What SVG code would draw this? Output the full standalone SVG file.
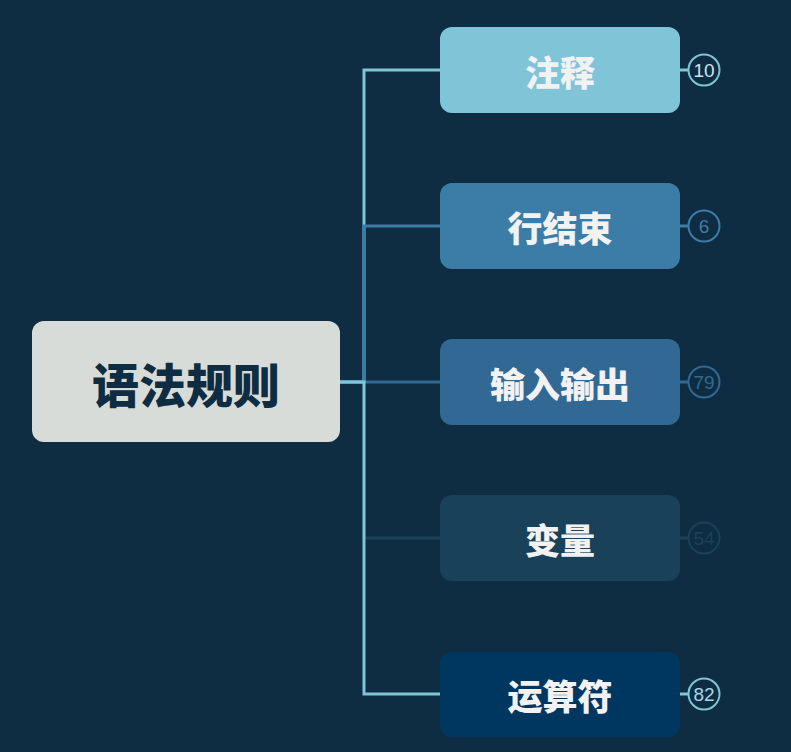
<svg xmlns="http://www.w3.org/2000/svg" width="791" height="752" viewBox="0 0 791 752">
<style>
.bg{fill:#0f2d42}
.lbl{font-family:"Noto Sans CJK SC","Noto Sans",sans-serif;font-weight:900;text-anchor:middle;dominant-baseline:central}
.child{font-size:35px;fill:#f2f2f2}
.root{font-size:47px;fill:#0f2d42}
.conn{fill:none;stroke-width:3}
.badge{fill:#0f2d42;stroke-width:2}
.num{font-family:"Liberation Sans",Arial,sans-serif;font-size:19px;text-anchor:middle;dominant-baseline:central}
</style>
<rect class="bg" x="0" y="0" width="791" height="752"/>
<g id="connectors">
<path class="conn" stroke="#1a415a" d="M340 382 H364 V538 H440"/>
<path class="conn" stroke="#316894" d="M340 382 H440"/>
<path class="conn" stroke="#80c4d8" d="M340 382 H364 V70 H440"/>
<path class="conn" stroke="#3c7da8" d="M340 382 H364 V226 H440"/>
<path class="conn" stroke="#80c4d8" d="M340 382 H364 V694 H440"/>
</g>
<g id="root">
<rect x="32" y="321" width="308" height="121" rx="12" fill="#d8dcd8"/>
<text class="lbl root" x="186" y="382">语法规则</text>
</g>
<g id="n1">
<rect x="440" y="27" width="240" height="86" rx="12" fill="#80c4d8"/>
<text class="lbl child" x="560" y="70">注释</text>
<line x1="680" y1="70" x2="688" y2="70" stroke="#80c4d8" stroke-width="3"/>
<circle class="badge" cx="704" cy="70" r="15.5" stroke="#80c4d8"/>
<text class="num" x="704" y="70" fill="#c8e4ee">10</text>
</g>
<g id="n2">
<rect x="440" y="183" width="240" height="86" rx="12" fill="#3c7da8"/>
<text class="lbl child" x="560" y="226">行结束</text>
<line x1="680" y1="226" x2="688" y2="226" stroke="#3c7da8" stroke-width="3"/>
<circle class="badge" cx="704" cy="226" r="15.5" stroke="#3c7da8"/>
<text class="num" x="704" y="226" fill="#3c7da8">6</text>
</g>
<g id="n3">
<rect x="440" y="339" width="240" height="86" rx="12" fill="#316894"/>
<text class="lbl child" x="560" y="382">输入输出</text>
<line x1="680" y1="382" x2="688" y2="382" stroke="#316894" stroke-width="3"/>
<circle class="badge" cx="704" cy="382" r="15.5" stroke="#316894"/>
<text class="num" x="704" y="382" fill="#316894">79</text>
</g>
<g id="n4">
<rect x="440" y="495" width="240" height="86" rx="12" fill="#1a415a"/>
<text class="lbl child" x="560" y="538">变量</text>
<line x1="680" y1="538" x2="688" y2="538" stroke="#1a415a" stroke-width="3"/>
<circle class="badge" cx="704" cy="538" r="15.5" stroke="#1a415a"/>
<text class="num" x="704" y="538" fill="#1a415a">54</text>
</g>
<g id="n5">
<rect x="440" y="652" width="240" height="85" rx="12" fill="#003760"/>
<text class="lbl child" x="560" y="694">运算符</text>
<line x1="680" y1="694" x2="688" y2="694" stroke="#80c4d8" stroke-width="3"/>
<circle class="badge" cx="704" cy="694" r="15.5" stroke="#80c4d8"/>
<text class="num" x="704" y="694" fill="#a8d8e8">82</text>
</g>
</svg>
